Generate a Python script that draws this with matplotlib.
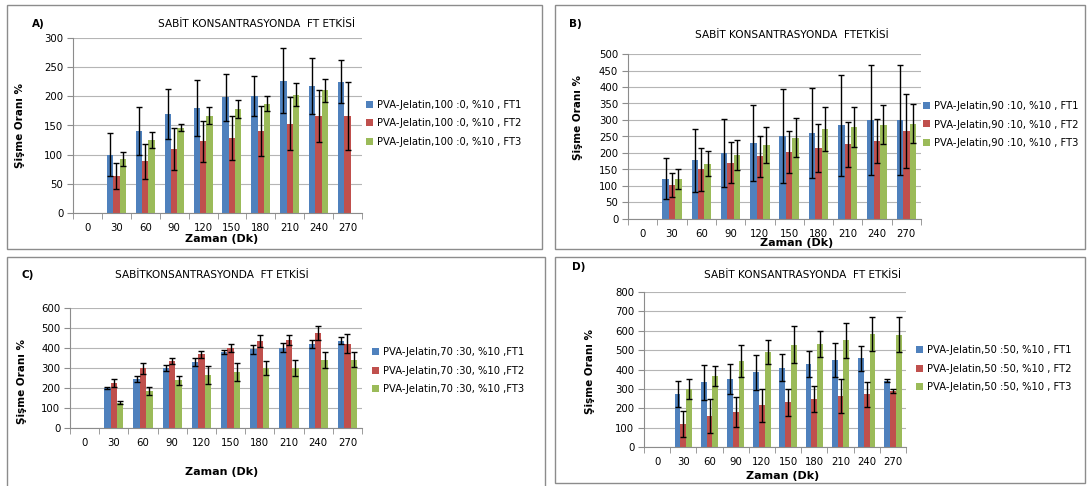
import matplotlib
matplotlib.use("Agg")
import matplotlib.pyplot as plt
import matplotlib.patches as mpatches
import numpy as np

nan = np.nan
times = ["0", "30", "60", "90", "120", "150", "180", "210", "240", "270"]
colors = ["#4F81BD", "#C0504D", "#9BBB59"]

# A) 100:0
a_ft1 = [nan, 100, 141, 170, 180, 198, 200, 227, 217, 225]
a_ft2 = [nan, 63, 89, 109, 123, 129, 140, 153, 166, 166]
a_ft3 = [nan, 92, 125, 146, 167, 178, 187, 203, 210, nan]
a_err1 = [nan, 37, 41, 43, 48, 40, 34, 56, 48, 37]
a_err2 = [nan, 22, 30, 36, 35, 38, 43, 45, 45, 58]
a_err3 = [nan, 12, 13, 6, 15, 15, 13, 20, 19, nan]

# B) 90:10
b_ft1 = [nan, 122, 178, 200, 230, 252, 260, 284, 300, 301]
b_ft2 = [nan, 103, 150, 171, 190, 203, 215, 227, 237, 267]
b_ft3 = [nan, 121, 168, 193, 225, 246, 272, 279, 286, 289]
b_err1 = [nan, 62, 95, 102, 116, 143, 136, 153, 167, 167]
b_err2 = [nan, 37, 65, 63, 62, 65, 72, 68, 67, 111]
b_err3 = [nan, 31, 38, 45, 55, 59, 66, 60, 59, 59]

# C) 70:30
c_ft1 = [nan, 200, 246, 300, 330, 380, 393, 402, 422, 437]
c_ft2 = [nan, 225, 298, 335, 368, 400, 435, 438, 475, 422]
c_ft3 = [nan, 126, 185, 238, 265, 280, 300, 300, 340, 342]
c_err1 = [nan, 5, 15, 15, 18, 10, 23, 22, 20, 18]
c_err2 = [nan, 18, 27, 13, 18, 18, 30, 25, 37, 46]
c_err3 = [nan, 8, 20, 23, 43, 43, 33, 38, 40, 38]

# D) 50:50
d_ft1 = [nan, 273, 335, 352, 385, 410, 428, 448, 457, 343]
d_ft2 = [nan, 118, 160, 180, 215, 230, 247, 263, 272, 287]
d_ft3 = [nan, 300, 368, 443, 490, 527, 530, 550, 585, 580]
d_err1 = [nan, 66, 90, 78, 89, 70, 67, 88, 65, 9]
d_err2 = [nan, 66, 88, 77, 86, 70, 66, 86, 66, 10]
d_err3 = [nan, 53, 51, 83, 60, 95, 67, 89, 88, 92]

W, H = 1089, 486
fig = plt.figure(figsize=(W / 100, H / 100), dpi=100)
plt.rcParams["font.family"] = ["DejaVu Sans"]


def px(x, y):
    return x / W, 1 - y / H


def box(x0, y0, x1, y1):
    fig.patches.append(mpatches.Rectangle((x0 / W, 1 - y1 / H), (x1 - x0) / W, (y1 - y0) / H,
                                          transform=fig.transFigure, fill=False,
                                          edgecolor="#8c8c8c", lw=1))


def panel(rect, series, errs, labels, ymax, ystep, tag, tag_xy, title, title_xy,
          ylab_xy, xlab_xy, leg_xy):
    ax = fig.add_axes([rect[0] / W, 1 - rect[3] / H, (rect[2] - rect[0]) / W, (rect[3] - rect[1]) / H])
    x = np.arange(len(times))
    w = 0.22
    for i, (vals, err) in enumerate(zip(series, errs)):
        ax.bar(x + (i - 1) * w, vals, w, color=colors[i], label=labels[i], zorder=2)
        ax.errorbar(x + (i - 1) * w, vals, yerr=err, fmt="none", ecolor="black",
                    elinewidth=1, capsize=2, capthick=1, zorder=3)
    ax.set_xlim(-0.5, len(times) - 0.5)
    ax.set_ylim(0, ymax)
    ax.set_yticks(np.arange(0, ymax + 1, ystep))
    ax.set_xticks(x)
    ax.set_xticklabels(times)
    ax.set_xticks(np.arange(-0.5, len(times)), minor=True)
    ax.tick_params(axis="x", which="major", length=0, pad=7, labelsize=7.3)
    ax.tick_params(axis="x", which="minor", length=4, color="#8c8c8c", direction="out")
    ax.tick_params(axis="y", length=4, color="#8c8c8c", labelsize=7.3, pad=3)
    ax.yaxis.grid(True, color="#b5b5b5", lw=0.8, zorder=0)
    ax.set_axisbelow(True)
    for s in ["top", "right"]:
        ax.spines[s].set_visible(False)
    for s in ["left", "bottom"]:
        ax.spines[s].set_color("#8c8c8c")

    fig.text(*px(*tag_xy), tag, fontsize=7.5, fontweight="bold", va="center", ha="left")
    fig.text(*px(*title_xy), title, fontsize=7.6, ha="center", va="center")
    fig.text(*px(*ylab_xy), "Şişme Oranı %", fontsize=7.5, fontweight="bold",
             rotation=90, ha="center", va="center")
    fig.text(*px(*xlab_xy), "Zaman (Dk)", fontsize=8, fontweight="bold", ha="center", va="center")
    fig.legend(*ax.get_legend_handles_labels(), loc="upper left", bbox_to_anchor=px(*leg_xy),
               frameon=False, fontsize=7.2, handlelength=0.7, handleheight=0.7,
               handletextpad=0.4, labelspacing=0.85, borderpad=0, borderaxespad=0)
    return ax


box(7, 5, 542, 249)
box(555, 5, 1085, 249)
box(7, 257, 545, 490)
box(555, 257, 1085, 483)

panel((73, 38, 362, 213), [a_ft1, a_ft2, a_ft3], [a_err1, a_err2, a_err3],
      ["PVA-Jelatin,100 :0, %10 , FT1", "PVA-Jelatin,100 :0, %10 , FT2", "PVA-Jelatin,100 :0, %10 , FT3"],
      300, 50, "A)", (32, 24), "SABİT KONSANTRASYONDA  FT ETKİSİ", (256, 24),
      (20, 125), (222, 239), (366, 100))

panel((628, 54, 921, 219), [b_ft1, b_ft2, b_ft3], [b_err1, b_err2, b_err3],
      ["PVA-Jelatin,90 :10, %10 , FT1", "PVA-Jelatin,90 :10, %10 , FT2", "PVA-Jelatin,90 :10, %10 , FT3"],
      500, 50, "B)", (569, 24), "SABİT KONSANTRASYONDA  FTETKİSİ", (792, 35),
      (578, 117), (797, 243), (923, 101))

panel((70, 308, 362, 428), [c_ft1, c_ft2, c_ft3], [c_err1, c_err2, c_err3],
      ["PVA-Jelatin,70 :30, %10 ,FT1", "PVA-Jelatin,70 :30, %10 ,FT2", "PVA-Jelatin,70 :30, %10 ,FT3"],
      600, 100, "C)", (21, 275), "SABİTKONSANTRASYONDA  FT ETKİSİ", (212, 275),
      (22, 382), (222, 472), (372, 347))

panel((644, 292, 906, 447), [d_ft1, d_ft2, d_ft3], [d_err1, d_err2, d_err3],
      ["PVA-Jelatin,50 :50, %10 , FT1", "PVA-Jelatin,50 :50, %10 , FT2", "PVA-Jelatin,50 :50, %10 , FT3"],
      800, 100, "D)", (572, 267), "SABİT KONSANTRASYONDA  FT ETKİSİ", (802, 275),
      (590, 372), (783, 476), (916, 345))

fig.savefig("out.png", dpi=100)
